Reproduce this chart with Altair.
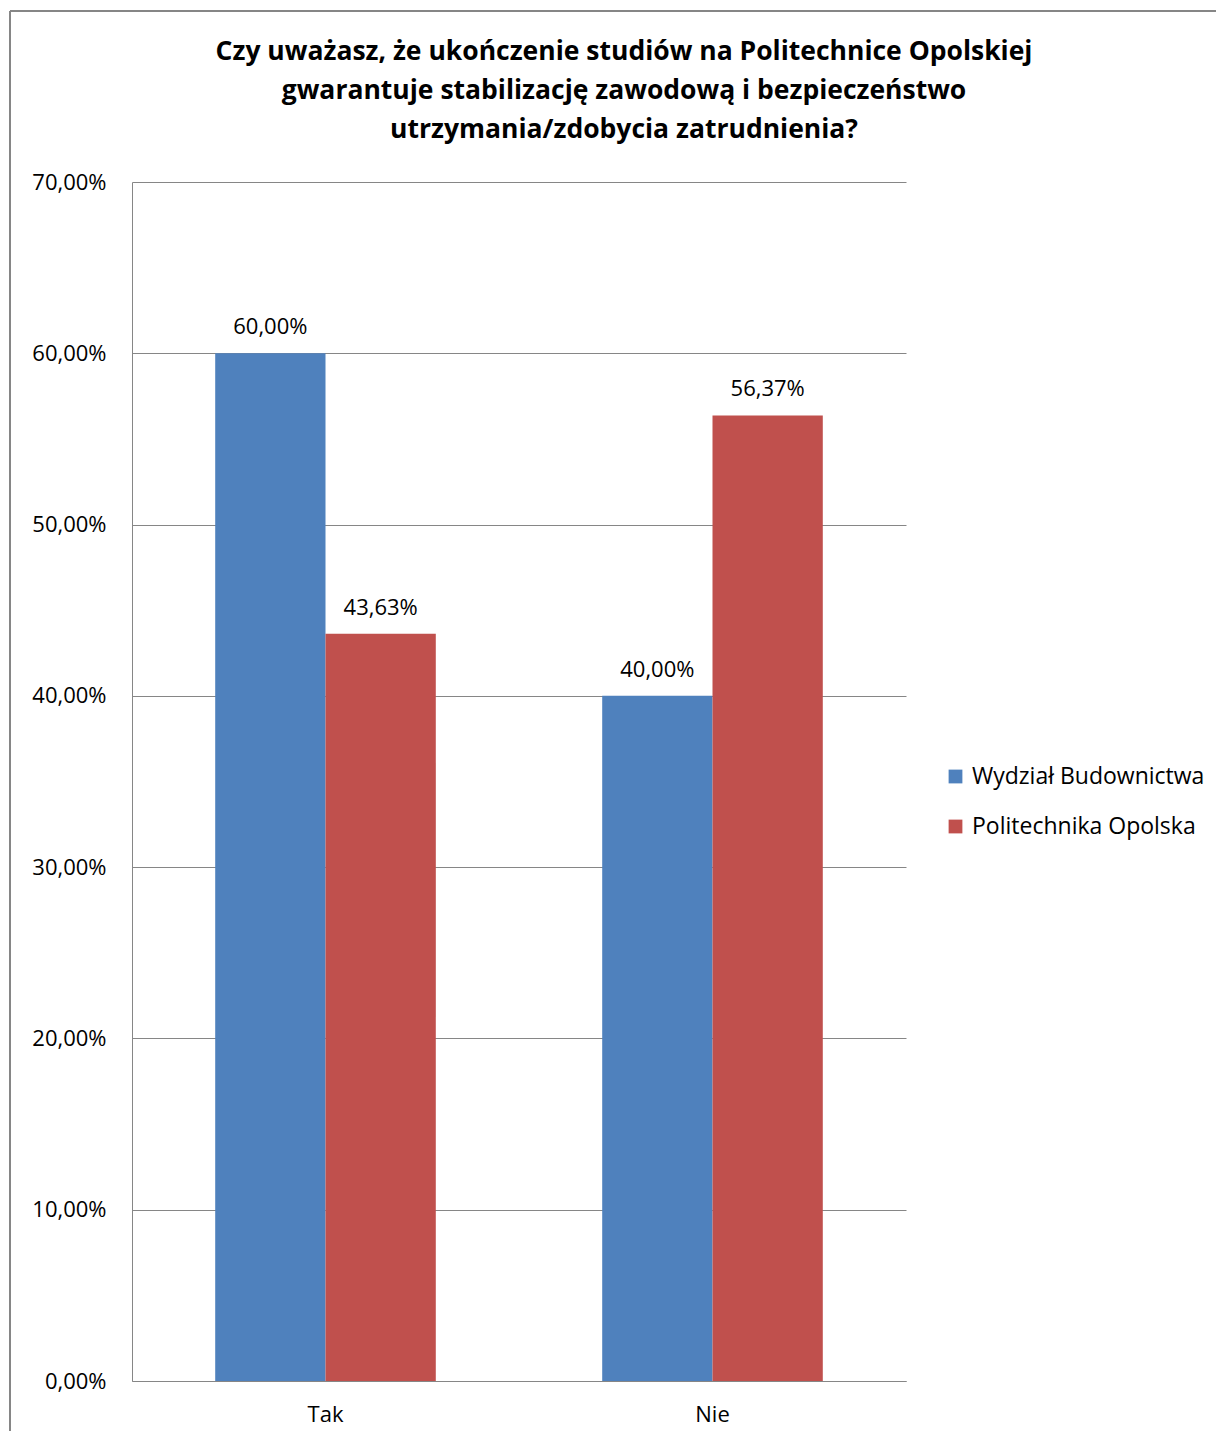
import altair as alt
import pandas as pd

categories = ["Tak", "Nie"]
series = ["Wydział Budownictwa", "Politechnika Opolska"]
wydzial = [0.60, 0.40]
politechnika = [0.4363, 0.5637]
colors = ["#4F81BD", "#C0504D"]
y_ticks = [0.0, 0.1, 0.2, 0.3, 0.4, 0.5, 0.6, 0.7]
title_lines = [
    "Czy uważasz, że ukończenie studiów na Politechnice Opolskiej",
    "gwarantuje stabilizację zawodową i bezpieczeństwo",
    "utrzymania/zdobycia zatrudnienia?",
]

rows = []
for i, c in enumerate(categories):
    rows.append({"kategoria": c, "seria": series[0], "wartosc": wydzial[i]})
    rows.append({"kategoria": c, "seria": series[1], "wartosc": politechnika[i]})
df = pd.DataFrame(rows)

FONT = "Open Sans"
GRAY = "#868686"
W, H = 774, 1199
fmt = "replace(format(datum.value, '.2%'), '.', ',')"

x = alt.X(
    "kategoria:N", sort=categories,
    scale=alt.Scale(paddingInner=0.43, paddingOuter=0.215),
    axis=alt.Axis(title=None, labelAngle=0, ticks=False, labelPadding=23,
                  labelFontSize=22, labelFont=FONT, labelColor="black",
                  domainColor=GRAY, grid=False),
)
xo = alt.XOffset("seria:N", sort=series, scale=alt.Scale(paddingInner=0, paddingOuter=0))
y = alt.Y(
    "wartosc:Q",
    scale=alt.Scale(domain=[0, 0.7], nice=False),
    axis=alt.Axis(title=None, values=y_ticks, labelExpr=fmt, ticks=False,
                  labelPadding=26, labelFontSize=22, labelFont=FONT,
                  labelColor="black", gridColor=GRAY, domainColor=GRAY),
)

bars = alt.Chart(df).mark_bar().encode(
    x=x, xOffset=xo, y=y,
    color=alt.Color(
        "seria:N", sort=series,
        scale=alt.Scale(domain=series, range=colors),
        legend=alt.Legend(title=None, orient="none", legendX=812, legendY=583,
                          symbolType="square", symbolSize=190, symbolStrokeWidth=0,
                          labelFontSize=23, labelFont=FONT, labelColor="black",
                          labelLimit=0, rowPadding=26, labelOffset=5),
    ),
)

labels = alt.Chart(df).transform_calculate(
    lab="replace(format(datum.wartosc, '.2%'), '.', ',')"
).mark_text(baseline="bottom", dy=-14, fontSize=22, font=FONT, color="black").encode(
    x=alt.X("kategoria:N", sort=categories), xOffset=alt.XOffset("seria:N", sort=series),
    y="wartosc:Q", text="lab:N",
)

one = pd.DataFrame({"a": [0]})
title_df = pd.DataFrame({"t": [title_lines]})
title_mark = alt.Chart(title_df).mark_text(
    font=FONT, fontSize=26.5, fontWeight="bold", color="black",
    align="center", baseline="middle", lineHeight=39,
).encode(x=alt.value(492), y=alt.value(-130), text="t")

border_left = alt.Chart(one).mark_rule(color=GRAY, strokeWidth=2).encode(
    x=alt.value(-122), y=alt.value(-171), y2=alt.value(H + 60)
)
border_top = alt.Chart(one).mark_rule(color=GRAY, strokeWidth=2).encode(
    x=alt.value(-122), x2=alt.value(W + 330), y=alt.value(-171)
)

chart = alt.layer(bars, labels, title_mark, border_left, border_top).properties(
    width=W, height=H,
    autosize=alt.AutoSizeParams(type="none"),
    padding={"left": 124, "top": 174, "right": 310, "bottom": 50},
).configure_view(stroke=None)

chart.save("out.html", embed_options={"renderer": "svg", "actions": False})
